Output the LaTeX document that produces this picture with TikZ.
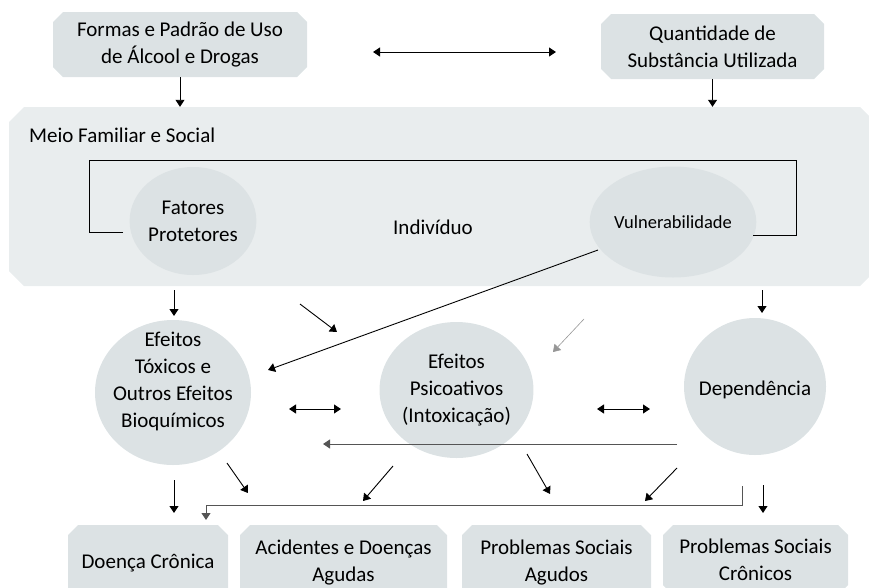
\documentclass[tikz,border=0pt]{standalone}
\usepackage{fontspec}
\setmainfont{Carlito}
\usetikzlibrary{shapes.geometric,arrows.meta}

\definecolor{boxgray}{RGB}{220,226,228}
\definecolor{panelgray}{RGB}{233,237,238}
\definecolor{linegray}{RGB}{85,85,85}
\definecolor{thingray}{RGB}{150,150,150}

\tikzset{
  chamf/.store in=\boxchamf, chamf=10pt,
  boxcol/.store in=\boxcol, boxcol=boxgray,
  box/.style={rectangle, inner sep=0pt, align=center,
    path picture={
      \fill[\boxcol] ([xshift=\boxchamf]path picture bounding box.north west)
        -- ([xshift=-\boxchamf]path picture bounding box.north east)
        -- ([yshift=-\boxchamf]path picture bounding box.north east)
        -- ([yshift=\boxchamf]path picture bounding box.south east)
        -- ([xshift=-\boxchamf]path picture bounding box.south east)
        -- ([xshift=\boxchamf]path picture bounding box.south west)
        -- ([yshift=\boxchamf]path picture bounding box.south west)
        -- ([yshift=-\boxchamf]path picture bounding box.north west) -- cycle;}},
  blob/.style={ellipse, fill=boxgray, inner sep=0pt, align=center},
  arr/.style={->, line width=0.9pt},
  txt/.style={align=center, inner sep=0pt},
}

\begin{document}
\begin{tikzpicture}[x=1pt, y=-1pt, >={Triangle[length=7pt,width=9pt]},
    every node/.style={font=\fontsize{21}{27}\selectfont}]
    \clip (0,0) rectangle (869,587);

    % Entradas
    \node[box, minimum width=254pt, minimum height=65pt] (formas) at (180,44.5) {Formas e Padrão de Uso\\de Álcool e Drogas};
    \node[box, minimum width=223pt, minimum height=65pt] (quant) at (712.5,46.5) {Quantidade de\\Substância Utilizada};

    % Meio familiar e social
    \node[box, chamf=15pt, boxcol=panelgray, minimum width=866pt, minimum height=179pt] (meio) at (442,196.5) {};
    \node[anchor=west, inner sep=0pt] (meiolbl) at (29,135) {Meio Familiar e Social};
    \node[blob, minimum width=118pt, minimum height=108pt] (fatores) at (193,221) {Fatores\\Protetores};
    \node[txt] (indiv) at (433,227) {Indivíduo};
    \node[blob, minimum width=156pt, minimum height=111pt, font=\fontsize{18.5}{22}\selectfont] (vuln) at (673,222) {Vulnerabilidade};

    % Efeitos
    \node[blob, minimum width=156pt, minimum height=145pt] (toxicos) at (173,392.5) {};
    \node[txt] (toxicostxt) at (173,381) {Efeitos\\Tóxicos e\\Outros Efeitos\\Bioquímicos};
    \node[blob, minimum width=143pt, minimum height=136pt] (psico) at (456.5,390) {Efeitos\\Psicoativos\\(Intoxicação)};
    \node[blob, minimum width=142pt, minimum height=137pt] (dep) at (755,386.5) {};
    \node[txt] (deptxt) at (755,390) {Dependência};

    % Consequencias
    \node[box, minimum width=160pt, minimum height=76pt] (cronica) at (148,563) {Doença Crônica};
    \node[box, minimum width=207pt, minimum height=76pt] (acid) at (343.5,563) {Acidentes e Doenças\\Agudas};
    \node[box, minimum width=189pt, minimum height=76pt] (socag) at (556.5,563) {Problemas Sociais\\Agudos};
    \node[box, minimum width=185pt, minimum height=70pt] (soccr) at (755.5,560) {Problemas Sociais\\Crônicos};

    % Pontos livres das setas
    \coordinate (fatend) at (123,232);
    \coordinate (vulnend) at (753,235);
    \coordinate (topl) at (373,52);
    \coordinate (topr) at (556,52);
    \coordinate (vulns) at (598,250);
    \coordinate (toxe) at (268,370);
    \coordinate (fats) at (174,290);
    \coordinate (fate) at (174,316);
    \coordinate (d1s) at (300,304);
    \coordinate (d1e) at (337,332);
    \coordinate (d2s) at (584,319);
    \coordinate (d2e) at (553,352);
    \coordinate (deps) at (762,290);
    \coordinate (depe) at (762,313);
    \coordinate (bl) at (289,409);
    \coordinate (br) at (341,409);
    \coordinate (cl) at (597,409);
    \coordinate (cr) at (650,409);
    \coordinate (longs) at (677,444);
    \coordinate (longe) at (323,444);
    \coordinate (e1s) at (174,480);
    \coordinate (e1e) at (174,513);
    \coordinate (e2s) at (227,463);
    \coordinate (e2e) at (248,493);
    \coordinate (e3s) at (393,466);
    \coordinate (e3e) at (363,501);
    \coordinate (e4s) at (527,454);
    \coordinate (e4e) at (550,494);
    \coordinate (e5s) at (677,468);
    \coordinate (e5e) at (645,501);
    \coordinate (e6s) at (763,485);
    \coordinate (e6e) at (763,513);
    \coordinate (brs) at (742,486);
    \coordinate (bre) at (206,520);

    % Setas de cima
    \draw[arr] (formas.south) -- (formas.south |- meio.north);
    \draw[arr] (quant.south) -- (quant.south |- meio.north);
    \draw[arr, <->] (topl) -- (topr);

    % Individuo
    \draw[line width=0.9pt] (fatend) -| (89,160) -| (796,235) -- (vulnend);
    \draw[arr] (vulns) -- (toxe);

    % Setas do meio
    \draw[arr] (fats) -- (fate);
    \draw[arr] (d1s) -- (d1e);
    \draw[->, line width=0.6pt, draw=thingray] (d2s) -- (d2e);
    \draw[arr] (deps) -- (depe);
    \draw[arr, <->] (bl) -- (br);
    \draw[arr, <->] (cl) -- (cr);
    \draw[arr, draw=linegray] (longs) -- (longe);

    % Setas de baixo
    \draw[arr] (e1s) -- (e1e);
    \draw[arr] (e2s) -- (e2e);
    \draw[arr] (e3s) -- (e3e);
    \draw[arr] (e4s) -- (e4e);
    \draw[arr] (e5s) -- (e5e);
    \draw[arr] (e6s) -- (e6e);
    \draw[arr, draw=linegray] (brs) |- (206,505) -- (bre);
\end{tikzpicture}
\end{document}
